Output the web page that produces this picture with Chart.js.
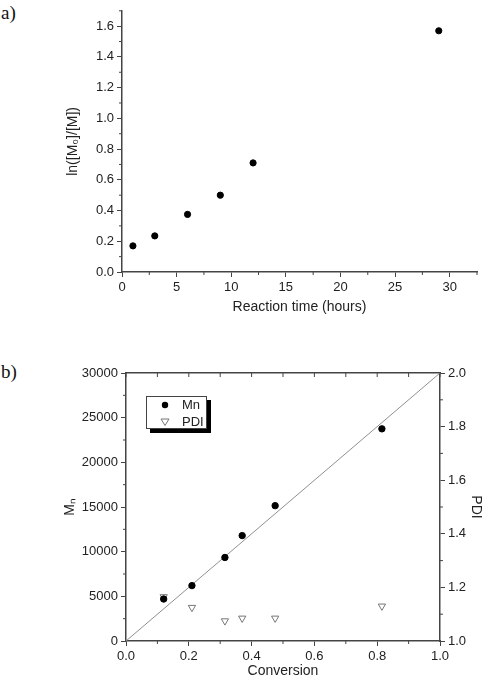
<!DOCTYPE html>
<html>
<head>
<meta charset="utf-8">
<script src="https://cdn.jsdelivr.net/npm/chart.js@4.4.1/dist/chart.umd.min.js"></script>
<style>
	body { margin: 0; background: #fff; width: 492px; height: 680px; position: relative; overflow: hidden; }
	canvas { position: absolute; left: 0; }
	#graficoCinetica { top: 0; }
	#graficoConversao { top: 320px; }
	.rotulo { position: absolute; left: 1px; font-family: "Liberation Serif", serif; font-size: 19px; line-height: 19px; color: #111; }
	.legenda { position: absolute; left: 146px; top: 396px; width: 59px; height: 31px; border: 1px solid #444; background: #fff;
		box-shadow: 4px 4px 0 #000; font-family: "Liberation Sans", Arial, sans-serif; font-size: 13px; color: #222; }
	.legenda .item { position: absolute; left: 0; width: 59px; height: 16px; line-height: 16px; }
	.legenda .texto { position: absolute; left: 35px; top: 0; }
	.legenda svg { position: absolute; left: 13px; top: 3px; }
</style>
</head>
<body>
<div class="rotulo" style="top:3px">a)</div>
<div class="rotulo" style="top:362px">b)</div>
<canvas id="graficoCinetica" width="492" height="320"></canvas>
<canvas id="graficoConversao" width="492" height="360"></canvas>
<div class="legenda" id="legendaConversao"></div>

<script>
/* Dados do gráfico a) */
var temposReacao = [1, 3, 6, 9, 12, 29];
var lnRazao = [0.17, 0.235, 0.375, 0.5, 0.71, 1.57];

/* Dados do gráfico b) */
var conversao = [0.12, 0.21, 0.315, 0.37, 0.475, 0.815];
var valoresMn = [4700, 6200, 9350, 11800, 15150, 23750];
var valoresPDI = [1.165, 1.125, 1.075, 1.085, 1.085, 1.13];
var retaConversao = [0, 1];
var retaMn = [0, 30000];
var nomesSeries = ['Mn', 'PDI'];

/* Faixas dos eixos */
var eixoTempo = { min: 0, max: 32.5, passo: 5 };
var eixoLn = { min: 0, max: 1.7, passo: 0.2 };
var eixoConversao = { min: 0, max: 1, passo: 0.2 };
var eixoMn = { min: 0, max: 30000, passo: 5000 };
var eixoPDI = { min: 1, max: 2, passo: 0.2 };

var corEixo = '#444';
var corTexto = '#222';
var fonteTicks = { family: 'Liberation Sans', size: 13 };
var fonteTitulo = { family: 'Liberation Sans', size: 14 };

function pontos(xs, ys) {
	return xs.map(function(x, i) { return { x: x, y: ys[i] }; });
}

function umaCasa(v) { return v.toFixed(1); }
function inteiro(v) { return String(v); }

/* marcas menores (estilo Origin) */
var marcasMenores = {
	id: 'marcasMenores',
	afterDraw: function(chart, args, opts) {
		var ctx = chart.ctx;
		ctx.save();
		ctx.strokeStyle = corEixo;
		ctx.lineWidth = 1;
		(opts.eixos || []).forEach(function(e) {
			var s = chart.scales[e.id];
			var n = Math.round((s.max - s.min) / e.passo);
			for (var i = 0; i <= n; i++) {
				var v = s.min + i * e.passo;
				var r = v / e.maior;
				var ehMaior = Math.abs(r - Math.round(r)) < 1e-6;
				if (ehMaior && !e.todas) continue;
				var p = s.getPixelForValue(v);
				var sinal = e.dentro ? -1 : 1;
				ctx.beginPath();
				if (s.isHorizontal()) {
					var y0 = s.position === 'top' ? s.bottom : s.top;
					var dy = s.position === 'top' ? -1 : 1;
					ctx.moveTo(p, y0);
					ctx.lineTo(p, y0 + dy * sinal * e.comp);
				} else {
					var x0 = s.position === 'left' ? s.right : s.left;
					var dx = s.position === 'left' ? -1 : 1;
					ctx.moveTo(x0, p);
					ctx.lineTo(x0 + dx * sinal * e.comp, p);
				}
				ctx.stroke();
			}
		});
		ctx.restore();
	}
};

function eixo(faixa, rotulo, titulo, extra) {
	var base = {
		type: 'linear',
		min: faixa.min,
		max: faixa.max,
		border: { display: true, color: corEixo, width: 1.5 },
		grid: { display: true, drawOnChartArea: false, drawTicks: true, tickLength: 5, tickColor: corEixo, tickWidth: 1 },
		ticks: { stepSize: faixa.passo, includeBounds: false, color: corTexto, font: fonteTicks, padding: 3,
			maxRotation: 0, autoSkip: false, callback: rotulo },
		title: { display: true, text: titulo.texto, padding: titulo.padding, color: corTexto, font: fonteTitulo }
	};
	return Object.assign(base, extra);
}

/* Gráfico a) */
var graficoA = new Chart(document.getElementById('graficoCinetica').getContext('2d'), {
	type: 'scatter',
	data: {
		datasets: [{
			label: 'ln',
			data: pontos(temposReacao, lnRazao),
			backgroundColor: '#000',
			borderColor: '#000',
			pointRadius: 3.1
		}]
	},
	options: {
		responsive: false,
		animation: false,
		layout: { padding: { top: 6, right: 15, left: 0, bottom: 0 } },
		plugins: {
			legend: { display: false },
			tooltip: { enabled: false },
			marcasMenores: { eixos: [
				{ id: 'x', passo: 2.5, maior: 5, comp: 3 },
				{ id: 'y', passo: 0.1, maior: 0.2, comp: 3 }
			] }
		},
		scales: {
			x: eixo(eixoTempo, inteiro, { texto: 'Reaction time (hours)', padding: { top: 0, bottom: 4 } }, {
				position: 'bottom',
				afterFit: function(s) { s.height = 48; }
			}),
			y: eixo(eixoLn, umaCasa, { texto: 'ln([M\u2080]/[M])', padding: { top: 65, bottom: 0 } }, {
				position: 'left',
				afterFit: function(s) { s.width = 122; }
			})
		}
	},
	plugins: [marcasMenores]
});

/* Gráfico b) */
var graficoB = new Chart(document.getElementById('graficoConversao').getContext('2d'), {
	type: 'scatter',
	data: {
		datasets: [{
			label: nomesSeries[0],
			data: pontos(conversao, valoresMn),
			yAxisID: 'y',
			backgroundColor: '#000',
			borderColor: '#000',
			pointRadius: 3.2,
			order: 1
		}, {
			label: nomesSeries[1],
			data: pontos(conversao, valoresPDI),
			yAxisID: 'y1',
			pointStyle: 'triangle',
			rotation: 180,
			backgroundColor: '#fff',
			borderColor: '#777',
			borderWidth: 1,
			pointRadius: 4.2,
			order: 2
		}, {
			type: 'line',
			label: 'reta',
			data: pontos(retaConversao, retaMn),
			yAxisID: 'y',
			borderColor: '#909090',
			borderWidth: 1,
			pointRadius: 0,
			fill: false,
			order: 3
		}]
	},
	options: {
		responsive: false,
		animation: false,
		layout: { padding: { top: 53, right: 0, left: 0, bottom: 0 } },
		plugins: {
			legend: { display: false },
			tooltip: { enabled: false },
			marcasMenores: { eixos: [
				{ id: 'x', passo: 0.1, maior: 0.2, comp: 3 },
				{ id: 'y', passo: 2500, maior: 5000, comp: 3 },
				{ id: 'y1', passo: 0.1, maior: 0.2, comp: 3 },
				{ id: 'xTopo', passo: 0.1, maior: 0.2, comp: 4, dentro: true, todas: true }
			] }
		},
		scales: {
			x: eixo(eixoConversao, umaCasa, { texto: 'Conversion', padding: { top: 0, bottom: 0 } }, {
				position: 'bottom',
				afterFit: function(s) { s.height = 39; }
			}),
			xTopo: {
				type: 'linear',
				axis: 'x',
				position: 'top',
				min: eixoConversao.min,
				max: eixoConversao.max,
				border: { display: true, color: corEixo, width: 1.5 },
				grid: { display: false, drawOnChartArea: false, drawTicks: false },
				ticks: { display: false },
				afterFit: function(s) { s.height = 0; }
			},
			y: eixo(eixoMn, inteiro, { texto: 'M\u2099', padding: { top: 62, bottom: 0 } }, {
				position: 'left',
				afterFit: function(s) { s.width = 126; }
			}),
			y1: eixo(eixoPDI, umaCasa, { texto: 'PDI', padding: { top: 8, bottom: 0 } }, {
				position: 'right',
				afterFit: function(s) { s.width = 52; }
			})
		}
	},
	plugins: [marcasMenores]
});

/* Legenda do gráfico b) */
(function() {
	var simbolos = [
		'<svg width="10" height="10"><circle cx="5" cy="5" r="3.2" fill="#000"/></svg>',
		'<svg width="10" height="10"><polygon points="1,2 9,2 5,8.5" fill="#fff" stroke="#777" stroke-width="1"/></svg>'
	];
	var html = '';
	nomesSeries.forEach(function(nome, i) {
		html += '<div class="item" style="top:' + (i * 17) + 'px">' + simbolos[i] +
			'<span class="texto">' + nome + '</span></div>';
	});
	document.getElementById('legendaConversao').innerHTML = html;
}());
</script>
</body>
</html>
